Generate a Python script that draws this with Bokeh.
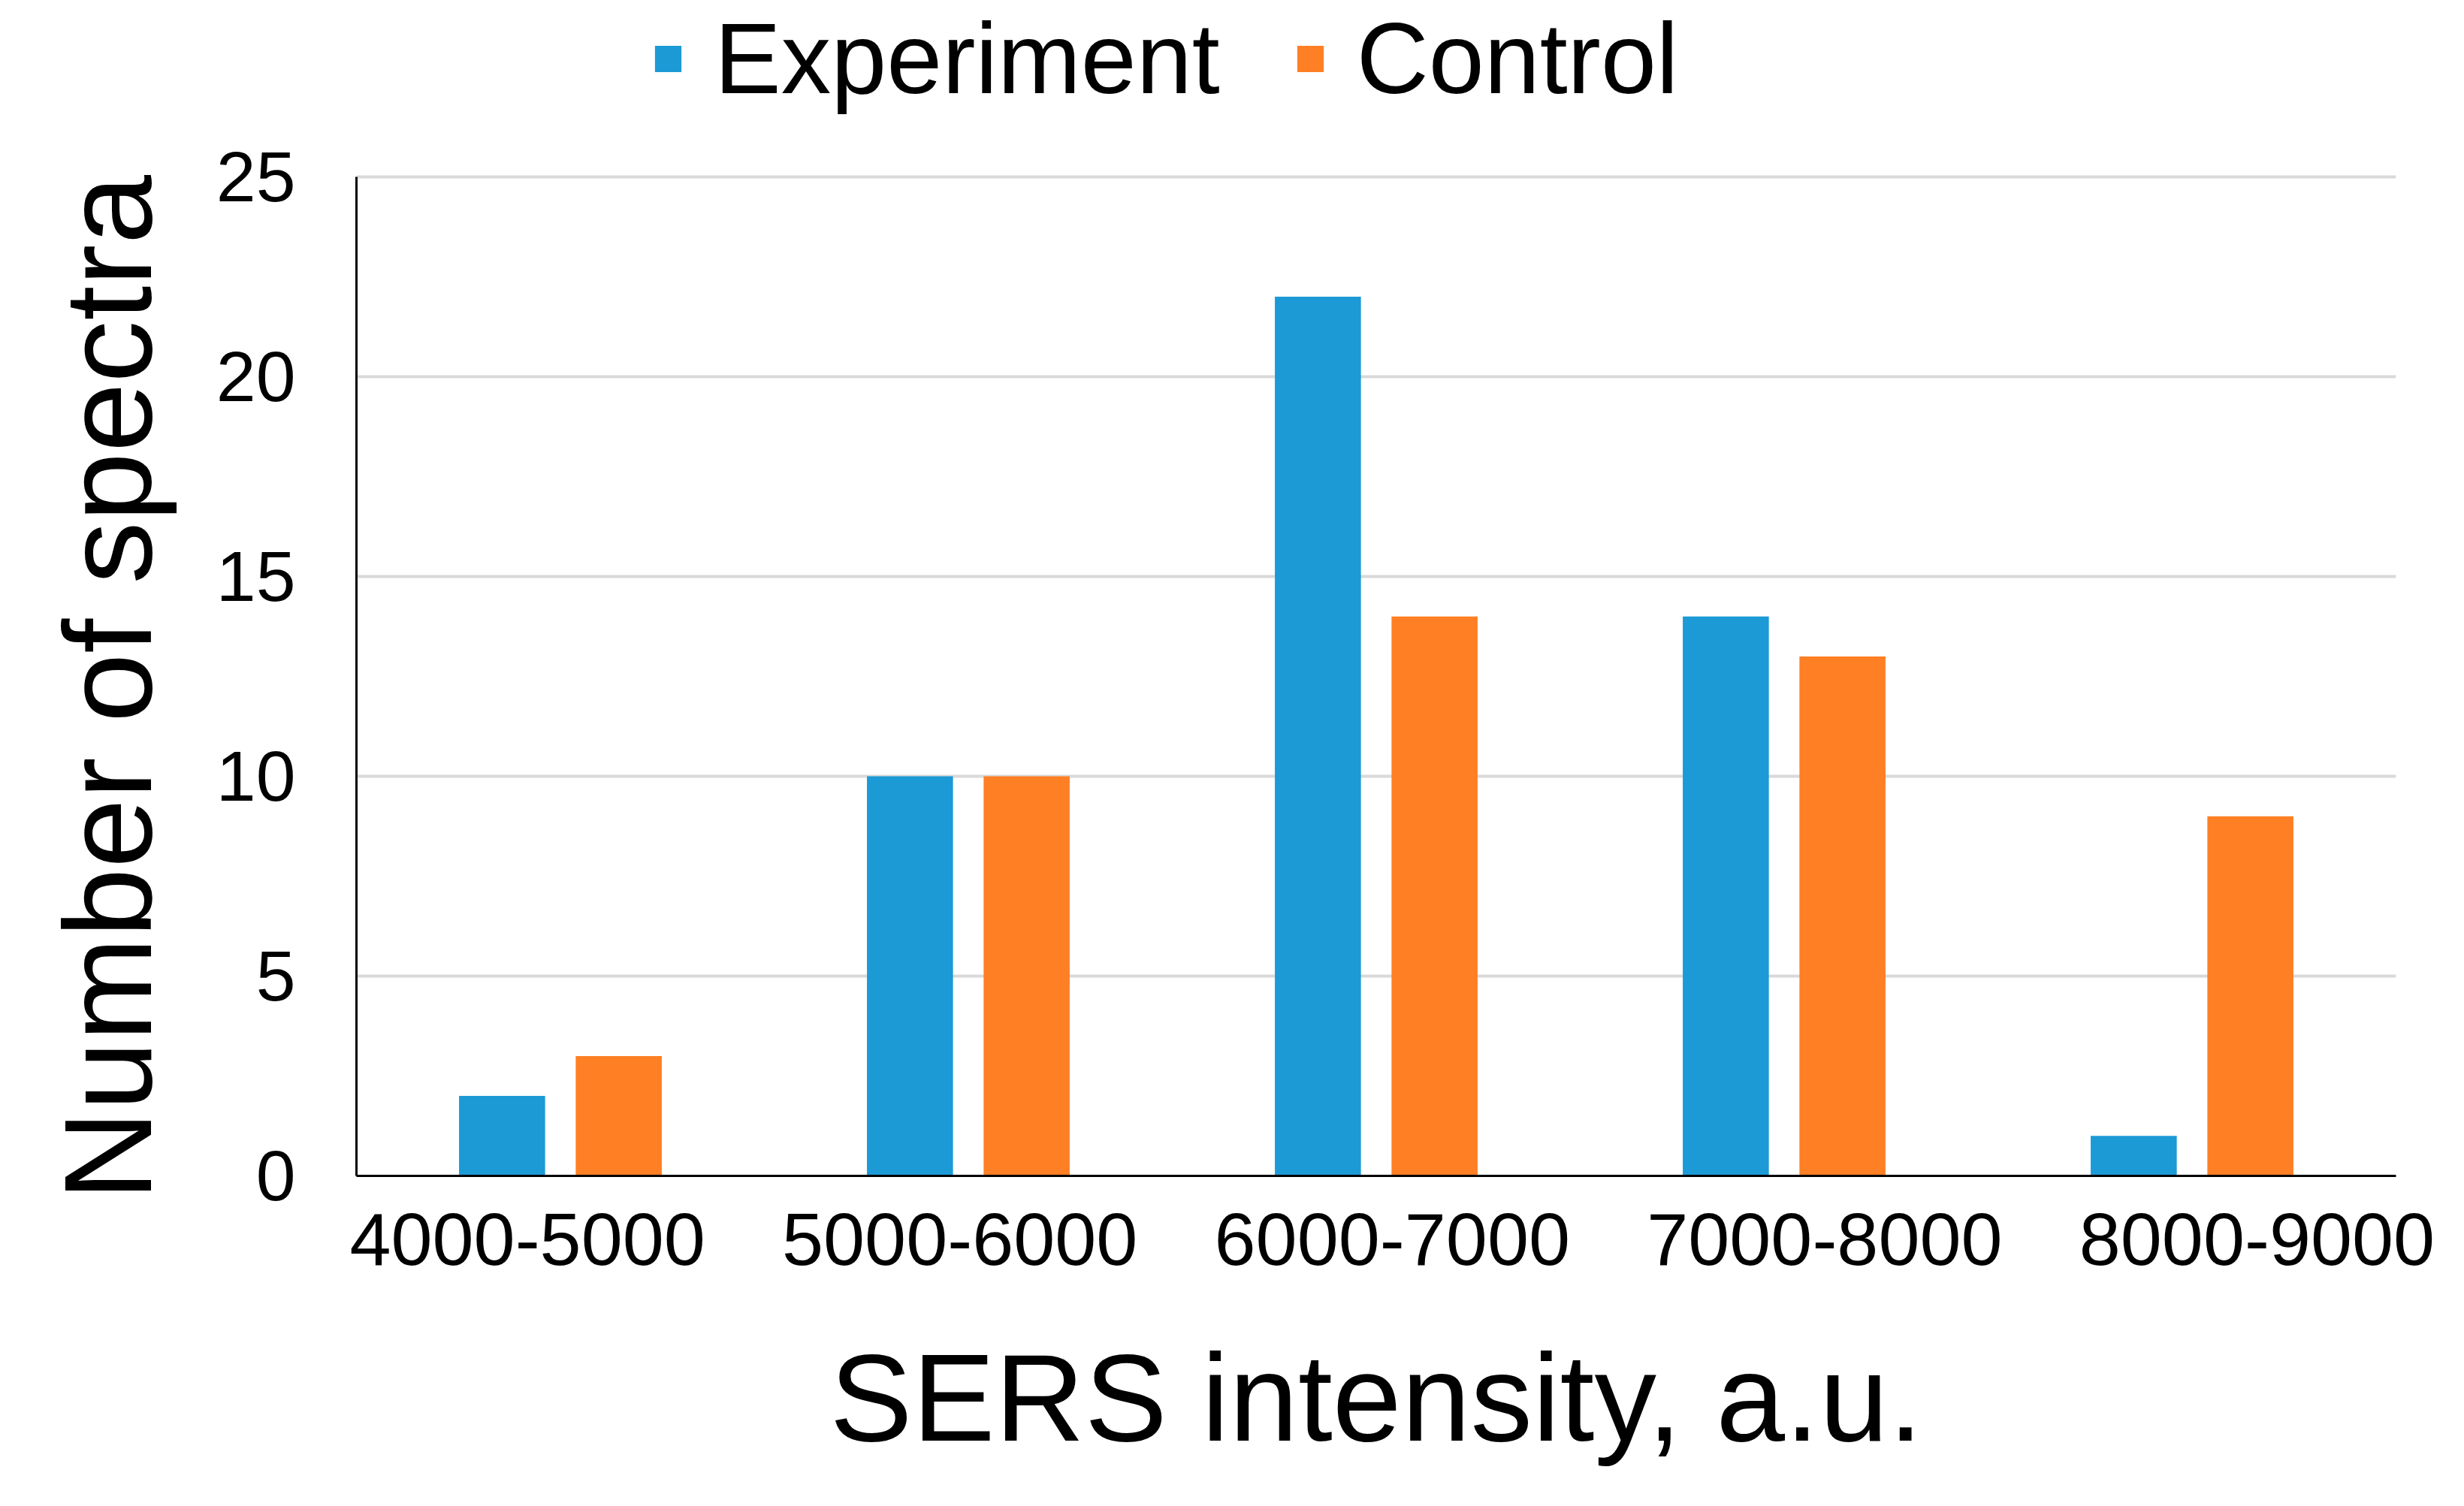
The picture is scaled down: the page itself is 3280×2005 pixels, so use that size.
from bokeh.plotting import figure
from bokeh.models import (Range1d, FixedTicker, Legend, LegendItem, ColumnDataSource,
                          Title)
from bokeh.transform import dodge
from bokeh.embed import file_html
from bokeh.resources import INLINE

# ---- data ----
categories = ["4000-5000", "5000-6000", "6000-7000", "7000-8000", "8000-9000"]
experiment = [2, 10, 22, 14, 1]
control = [3, 10, 14, 13, 9]
y_ticks = [0, 5, 10, 15, 20, 25]
series_names = ["Experiment", "Control"]
x_title = "SERS intensity, a.u."
y_title = "Number of spectra"

# ---- style / layout ----
BLUE = "#1B9AD6"
ORANGE = "#FF7F24"
FONT = "Liberation Sans"
Y_AXIS_MAX = 25          # top of the drawn axis
Y_VIEW_TOP = 29.417      # frame extends above the axis to hold the legend
X_VIEW = (0.1045, 4.8215)

# bin centres on a numeric bin scale (bin i spans [i, i+1])
bin_centres = [i + 0.5 for i in range(len(categories))]
source = ColumnDataSource(dict(pos=bin_centres, cat=categories,
                               exp=experiment, ctl=control))

p = figure(width=3264, height=1989, output_backend="svg", toolbar_location=None,
           x_range=Range1d(*X_VIEW), y_range=Range1d(0, Y_VIEW_TOP),
           min_border_left=469, min_border_right=75,
           min_border_top=0, min_border_bottom=424)
p.extra_x_ranges = {"bins": Range1d(0, len(categories))}
p.outline_line_color = None
p.background_fill_color = "white"
p.border_fill_color = "white"

r_exp = p.vbar(x=dodge("pos", -0.143), top="exp", width=0.211, source=source,
               x_range_name="bins", fill_color=BLUE, line_color=None)
r_ctl = p.vbar(x=dodge("pos", 0.143), top="ctl", width=0.211, source=source,
               x_range_name="bins", fill_color=ORANGE, line_color=None)

# x axis (category labels)
xa = p.xaxis[0]
xa.ticker = FixedTicker(ticks=bin_centres)
xa.major_label_overrides = {c: lab for c, lab in zip(bin_centres, categories)}
xa.axis_label = x_title
xa.axis_label_text_font = FONT
xa.axis_label_text_font_size = "165px"
xa.axis_label_text_font_style = "normal"
xa.axis_label_text_color = "black"
xa.axis_label_standoff = 82
xa.major_label_text_font = FONT
xa.major_label_text_font_size = "99px"
xa.major_label_text_color = "black"
xa.major_label_standoff = 44
xa.major_tick_line_color = None
xa.minor_tick_line_color = None
xa.axis_line_color = "black"
xa.axis_line_width = 3

# y axis
ya = p.yaxis[0]
ya.ticker = FixedTicker(ticks=y_ticks)
ya.bounds = (0, Y_AXIS_MAX)
ya.major_label_text_font = FONT
ya.major_label_text_font_size = "95px"
ya.major_label_text_color = "black"
ya.major_label_standoff = 75
ya.major_tick_line_color = None
ya.minor_tick_line_color = None
ya.axis_line_color = "black"
ya.axis_line_width = 3

# y title as a left-side title, starting just below the x axis
ytitle = Title(text=y_title, align="left", offset=-33, standoff=97,
               text_font=FONT, text_font_size="166px", text_font_style="normal",
               text_color="black")
p.add_layout(ytitle, "left")

p.xgrid.grid_line_color = None
p.ygrid.grid_line_color = "#D9D9D9"
p.ygrid.grid_line_width = 4

legend = Legend(items=[LegendItem(label=series_names[0], renderers=[r_exp]),
                       LegendItem(label=series_names[1], renderers=[r_ctl])],
                orientation="horizontal", location=(393, 1411),
                glyph_width=44, glyph_height=44, label_standoff=40, spacing=98,
                label_text_font=FONT, label_text_font_size="133px",
                label_text_color="black", padding=0, margin=0,
                border_line_color=None, background_fill_alpha=0)
p.add_layout(legend)

open("out.html", "w").write(file_html(p, INLINE))
